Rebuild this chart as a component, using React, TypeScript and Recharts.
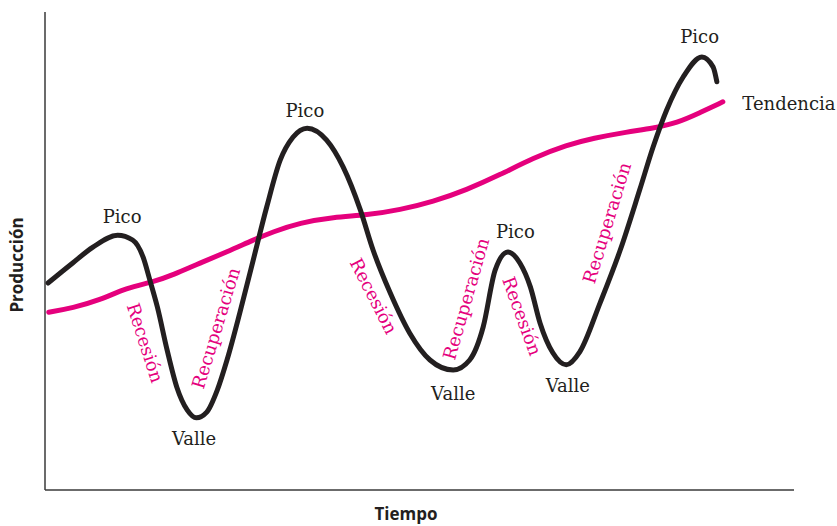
import { LineChart, Line, XAxis, YAxis, ReferenceDot } from "recharts";

// business cycle (black curve): time vs output
const cycleTime = [0.4, 3.7, 6.4, 9.7, 11.7, 13.1, 14.0, 15.0, 16.3, 17.6, 19.0, 20.2, 21.6, 23.0, 24.3, 26.0, 27.8, 29.6, 31.4, 33.1, 35.0, 37.6, 39.8, 42.1, 43.8, 46.1, 48.7, 51.4, 54.5, 56.7, 58.5, 60.1, 61.8, 63.4, 64.8, 66.1, 67.8, 69.6, 71.4, 74.1, 76.8, 79.4, 81.2, 83.0, 85.2, 87.7, 89.2, 89.7];
const cycleOutput = [43.3, 47.5, 50.8, 53.3, 52.3, 48.7, 43.9, 38.3, 29.3, 21.5, 16.7, 15.1, 16.3, 20.9, 27.2, 37.0, 48.1, 59.2, 69.0, 73.8, 75.7, 73.2, 67.6, 58.6, 50.2, 41.2, 32.8, 27.2, 25.1, 27.2, 34.1, 46.0, 49.8, 47.5, 42.5, 34.9, 28.7, 26.2, 28.9, 39.1, 50.2, 62.8, 71.8, 79.5, 86.4, 90.6, 88.5, 85.4];

// trend (magenta)
const trendTime = [0.5, 3.7, 7.3, 10.9, 14.4, 17.1, 20.7, 24.3, 27.8, 30.4, 34.0, 38.5, 43.0, 47.4, 51.8, 56.3, 60.7, 65.2, 69.7, 73.2, 77.7, 81.2, 84.4, 87.4, 90.5];
const trendOutput = [37.2, 38.1, 39.7, 42.3, 43.5, 45.0, 47.5, 49.8, 52.3, 54.0, 55.9, 57.1, 57.5, 58.6, 60.3, 62.8, 65.9, 69.5, 72.2, 73.6, 74.9, 75.7, 76.8, 78.9, 81.2];

// peak / trough labels
const pointLabels = ["Pico", "Valle", "Pico", "Valle", "Pico", "Valle", "Pico"];
const pointTime = [10.3, 19.9, 34.7, 54.5, 62.8, 69.8, 87.4];
const pointOutput = [55.9, 9.4, 78.0, 18.8, 52.7, 20.5, 93.5];

// phase labels along the curve
const phaseLabels = ["Recesión", "Recuperación", "Recesión", "Recuperación", "Recesión", "Recuperación"];
const phaseTime = [13.4, 22.8, 43.9, 56.2, 63.7, 75.0];
const phaseOutput = [30.8, 33.9, 40.6, 40.0, 36.4, 55.9];
const phaseAngle = [72, -73, 63, -74, 70, -73];

const cycleData = cycleTime.map((t, i) => ({ t, v: cycleOutput[i] }));
const trendData = trendTime.map((t, i) => ({ t, v: trendOutput[i] }));

const MAGENTA = "#e5007d";
const INK = "#231f20";
const serif = "'DejaVu Serif', serif";
const sans = "'Open Sans', sans-serif";

export default function App() {
  return (
    <div style={{ position: "absolute", left: 0, top: 0, background: "#fff" }}>
      <LineChart width={837} height={526} margin={{ top: 12, right: 43, left: 0, bottom: 0 }}>
        <XAxis
          type="number"
          dataKey="t"
          domain={[0, 100]}
          tick={false}
          tickLine={false}
          height={36}
          axisLine={{ stroke: "#3a3a3a", strokeWidth: 1.5 }}
          label={{
            content: () => (
              <text x={406} y={520} textAnchor="middle" fontFamily={sans} fontWeight={700} fontSize={17} fill={INK}>
                Tiempo
              </text>
            ),
          }}
        />
        <YAxis
          type="number"
          domain={[0, 100]}
          tick={false}
          tickLine={false}
          width={45}
          axisLine={{ stroke: "#3a3a3a", strokeWidth: 1.5 }}
          label={{
            content: () => (
              <text x={23} y={265} transform="rotate(-90 23 265)" textAnchor="middle" fontFamily={sans} fontWeight={700} fontSize={17} fill={INK}>
                Producción
              </text>
            ),
          }}
        />
        <Line data={trendData} dataKey="v" type="basis" stroke={MAGENTA} strokeWidth={5} dot={false} strokeLinecap="round" isAnimationActive={false} />
        <Line data={cycleData} dataKey="v" type="monotone" stroke={INK} strokeWidth={5} dot={false} strokeLinecap="round" isAnimationActive={false} />
        {pointLabels.map((label, i) => (
          <ReferenceDot
            key={`p${i}`}
            x={pointTime[i]}
            y={pointOutput[i]}
            r={0}
            shape={(p: any) => (
              <text x={p.cx} y={p.cy} textAnchor="middle" fontFamily={serif} fontSize={18} fill={INK}>
                {label}
              </text>
            )}
          />
        ))}
        <ReferenceDot
          x={93.1}
          y={79.5}
          r={0}
          shape={(p: any) => (
            <text x={p.cx} y={p.cy} textAnchor="start" fontFamily={serif} fontSize={18} fill={INK}>
              Tendencia
            </text>
          )}
        />
        {phaseLabels.map((label, i) => (
          <ReferenceDot
            key={`f${i}`}
            x={phaseTime[i]}
            y={phaseOutput[i]}
            r={0}
            shape={(p: any) => (
              <text
                x={p.cx}
                y={p.cy}
                transform={`rotate(${phaseAngle[i]} ${p.cx} ${p.cy})`}
                textAnchor="middle"
                dominantBaseline="central"
                fontFamily={serif}
                fontSize={18}
                fill={MAGENTA}
              >
                {label}
              </text>
            )}
          />
        ))}
      </LineChart>
    </div>
  );
}
